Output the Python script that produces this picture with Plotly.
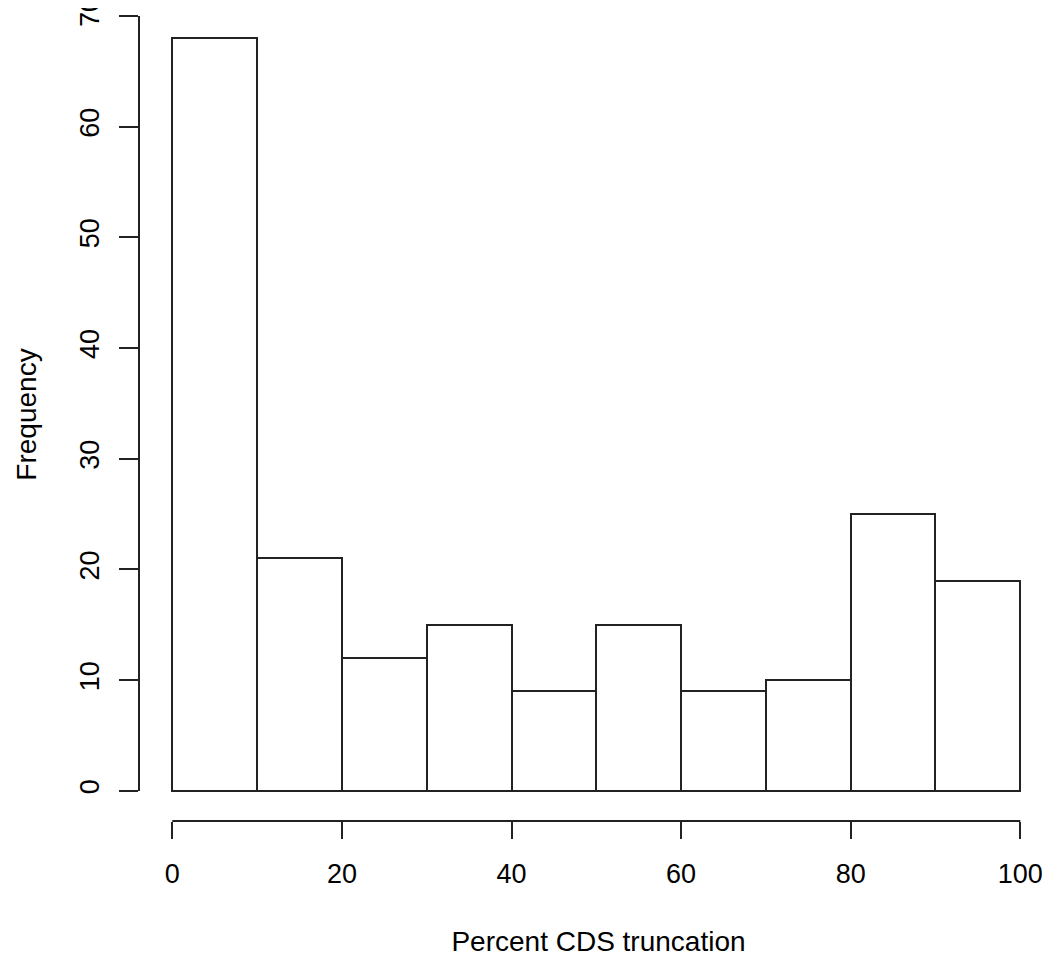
import plotly.graph_objects as go

bin_left = [0, 10, 20, 30, 40, 50, 60, 70, 80, 90]
counts = [68, 21, 12, 15, 9, 15, 9, 10, 25, 19]
x_ticks = [0, 20, 40, 60, 80, 100]
y_ticks = [0, 10, 20, 30, 40, 50, 60, 70]

font = dict(family="Liberation Sans, Arial, sans-serif", size=27, color="#000000")
title_font = dict(family="Liberation Sans, Arial, sans-serif", size=28, color="#000000")
line_col = "#222222"

fig = go.Figure(go.Bar(x=[b + 5 for b in bin_left],
                       y=counts,
                       width=10,
                       marker=dict(color="white", line=dict(color=line_col, width=2)),
                       showlegend=False))

# R-style axis lines that only span the tick range
fig.add_shape(type="line", xref="x", yref="paper", x0=0, x1=100, y0=0, y1=0,
              line=dict(color=line_col, width=2))
fig.add_shape(type="line", xref="paper", yref="y", x0=0, x1=0, y0=0, y1=70,
              line=dict(color=line_col, width=2))

fig.update_layout(
    width=1050, height=956,
    margin=dict(l=131, r=0, t=0, b=143),
    plot_bgcolor="white", paper_bgcolor="white",
    font=font,
    bargap=0,
    xaxis=dict(range=[-3.93, 104.45], tickvals=x_ticks, ticks="outside", ticklen=17,
               tickwidth=2, tickcolor=line_col, showline=False, showgrid=False,
               zeroline=False, ticklabelstandoff=12, automargin=False,
               ticklabeloverflow="allow",
               title=dict(text="Percent CDS truncation", standoff=42, font=title_font)),
    yaxis=dict(range=[-2.72, 70.72], tickvals=y_ticks, ticks="outside", ticklen=19,
               tickwidth=2, tickcolor=line_col, showline=False, showgrid=False,
               zeroline=False, tickangle=-90, ticklabelstandoff=9, automargin=False,
               ticklabeloverflow="allow",
               title=dict(text="Frequency", standoff=30, font=title_font)),
)

fig.write_html("out.html")
